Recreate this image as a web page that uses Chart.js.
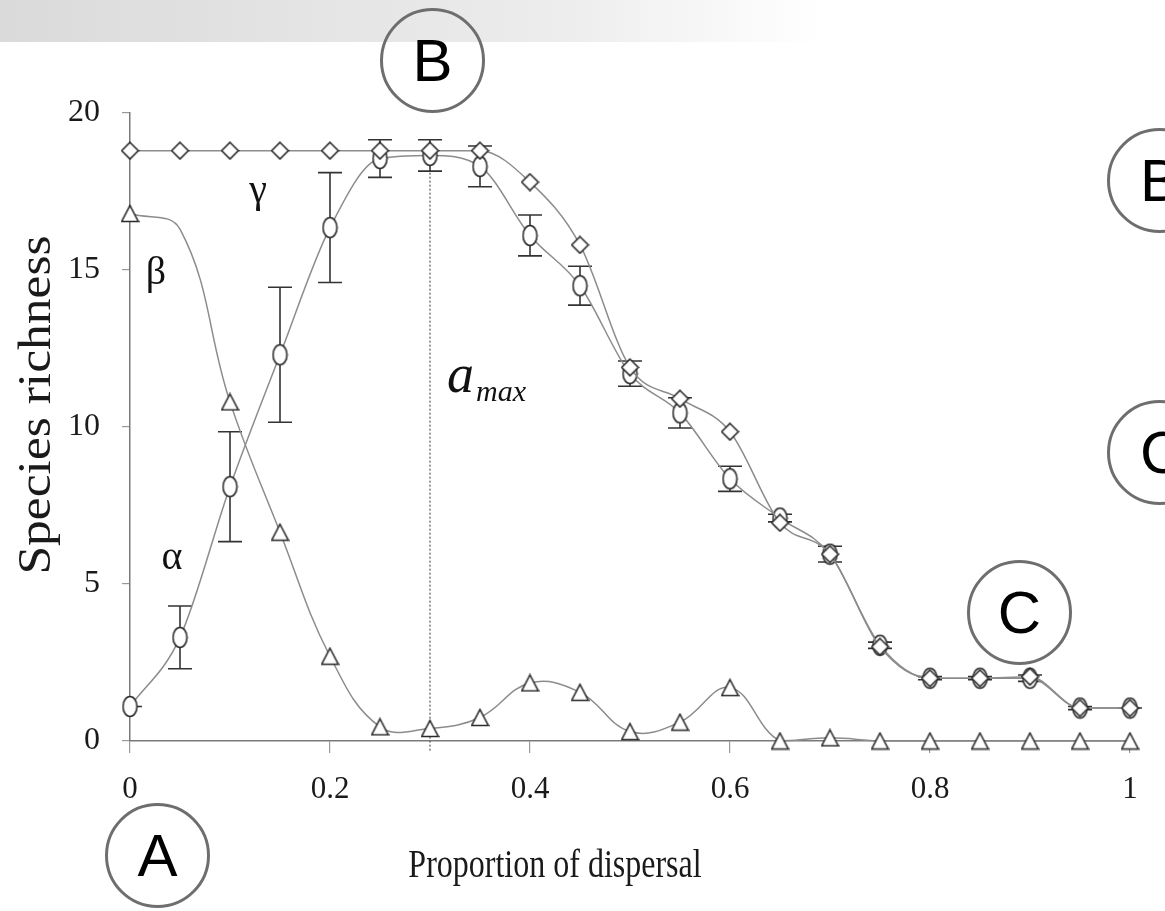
<!DOCTYPE html>
<html>
<head>
<meta charset="utf-8">
<title>Species richness vs proportion of dispersal</title>
<script src="https://cdn.jsdelivr.net/npm/chart.js@4.4.1/dist/chart.umd.min.js"></script>
<style>
  html, body { margin: 0; padding: 0; background: #fff; }
  #wrap { position: relative; width: 1165px; height: 911px; overflow: hidden; }
  #band {
    position: absolute; left: 0; top: 0; width: 1165px; height: 42px;
    background: linear-gradient(to right, #dadada 0px, #ececec 550px, #ffffff 820px);
  }
  #myChart { position: absolute; left: 0; top: 0; }
  .mark {
    position: absolute; width: 105px; height: 105px; box-sizing: border-box;
    border: 3px solid #6e6e6e; border-radius: 50%;
    font-family: 'Liberation Sans', Arial, sans-serif; font-size: 60px; color: #000;
    display: flex; align-items: center; justify-content: center;
  }
  .mark.edge { justify-content: flex-start; padding-left: 30px; }
</style>
</head>
<body>
<div id="wrap">
  <div id="band"></div>
  <canvas id="myChart" width="1165" height="911"></canvas>
  <div class="mark" style="left:380px; top:8px;">B</div>
  <div class="mark edge" style="left:1107px; top:128px;">B</div>
  <div class="mark edge" style="left:1107px; top:400px;">C</div>
  <div class="mark" style="left:967px; top:560px;">C</div>
  <div class="mark" style="left:105px; top:803px;">A</div>
</div>
<script>
// proportion of dispersal (x)
const dispersal = [0, 0.05, 0.1, 0.15, 0.2, 0.25, 0.3, 0.35, 0.4, 0.45, 0.5,
                   0.55, 0.6, 0.65, 0.7, 0.75, 0.8, 0.85, 0.9, 0.95, 1];

// gamma richness (diamonds)
const gamma = [18.8, 18.8, 18.8, 18.8, 18.8, 18.8, 18.8, 18.8, 17.8, 15.8, 11.9,
               10.9, 9.85, 6.95, 5.95, 3.0, 2.0, 2.0, 2.05, 1.05, 1.05];

// alpha richness (circles) and its error bars
const alpha = [1.1, 3.3, 8.1, 12.3, 16.35, 18.55, 18.65, 18.3, 16.1, 14.5, 11.7,
               10.45, 8.35, 7.1, 5.95, 3.05, 2.0, 2.0, 2.0, 1.05, 1.05];
const alphaErr = [0, 1.0, 1.75, 2.15, 1.75, 0.6, 0.5, 0.65, 0.65, 0.62, 0.4,
                  0.48, 0.4, 0.12, 0.25, 0.1, 0.05, 0.05, 0.1, 0.05, 0];

// beta richness (triangles); 0.05 has a curve but no marker
const beta = [16.8, 16.3, 10.8, 6.65, 2.7, 0.45, 0.4, 0.75, 1.85, 1.55, 0.3,
              0.6, 1.7, 0, 0.1, 0, 0, 0, 0, 0, 0];
const betaNoMarker = [0.05];

const aMax = 0.3;
const aMaxTop = 18.1;

const xTickLabels = ['0', '0.2', '0.4', '0.6', '0.8', '1'];
const yTickLabels = ['0', '5', '10', '15', '20'];

const serif = "'Liberation Serif', 'Times New Roman', serif";
const lineColor = '#8c8c8c';

function makeMarker(w, h, path) {
    const c = document.createElement('canvas');
    c.width = w;
    c.height = h;
    const g = c.getContext('2d');
    g.fillStyle = '#fff';
    g.strokeStyle = '#2a2a2a';
    g.lineWidth = 1.6;
    g.beginPath();
    path(g);
    g.closePath();
    g.fill();
    g.stroke();
    return c;
}

const diamond = makeMarker(19, 19, g => {
    g.moveTo(9.5, 1.2); g.lineTo(17.8, 9.5); g.lineTo(9.5, 17.8); g.lineTo(1.2, 9.5);
});
const oval = makeMarker(17, 23, g => {
    g.ellipse(8.5, 11.5, 7, 10, 0, 0, Math.PI * 2);
});
const triangle = makeMarker(19, 19, g => {
    g.moveTo(9.5, 1.5); g.lineTo(17.8, 17.5); g.lineTo(1.2, 17.5);
});

function toPoints(values) {
    return values.map((v, i) => ({ x: dispersal[i], y: v }));
}

const extras = {
    id: 'extras',
    beforeDatasetsDraw(chart) {
        const { ctx, scales: { x, y } } = chart;
        ctx.save();
        // a_max dotted line
        const px = x.getPixelForValue(aMax);
        ctx.strokeStyle = '#555';
        ctx.lineWidth = 1.2;
        ctx.setLineDash([2, 2]);
        ctx.beginPath();
        ctx.moveTo(px, y.getPixelForValue(aMaxTop));
        ctx.lineTo(px, y.getPixelForValue(0) + 10);
        ctx.stroke();
        ctx.setLineDash([]);

        // error bars on alpha
        ctx.strokeStyle = '#333';
        ctx.lineWidth = 1.6;
        alpha.forEach((v, i) => {
            const cx = x.getPixelForValue(dispersal[i]);
            const top = y.getPixelForValue(v + alphaErr[i]);
            const bot = y.getPixelForValue(v - alphaErr[i]);
            const left = i === 0 ? cx : cx - 12;
            ctx.beginPath();
            ctx.moveTo(cx, top); ctx.lineTo(cx, bot);
            ctx.moveTo(left, top); ctx.lineTo(cx + 12, top);
            ctx.moveTo(left, bot); ctx.lineTo(cx + 12, bot);
            ctx.stroke();
        });
        ctx.restore();
    },
    afterDatasetsDraw(chart) {
        const { ctx, scales: { x, y } } = chart;
        ctx.save();
        ctx.fillStyle = '#111';
        ctx.textAlign = 'center';
        ctx.textBaseline = 'middle';
        ctx.font = '40px ' + serif;
        ctx.fillText('γ', x.getPixelForValue(0.128), y.getPixelForValue(17.5));
        ctx.fillText('β', x.getPixelForValue(0.026), y.getPixelForValue(14.9));
        ctx.fillText('α', x.getPixelForValue(0.042), y.getPixelForValue(5.8));

        ctx.textAlign = 'left';
        ctx.textBaseline = 'alphabetic';
        const ax = x.getPixelForValue(0.317);
        const ay = y.getPixelForValue(11.1);
        ctx.font = 'italic 54px ' + serif;
        ctx.fillText('a', ax, ay);
        const aw = ctx.measureText('a').width;
        ctx.font = 'italic 30px ' + serif;
        ctx.fillText('max', ax + aw + 2, ay + 9);

        // axis titles (the figure is slightly stretched vertically)
        ctx.fillStyle = '#1a1a1a';
        ctx.textAlign = 'center';
        ctx.textBaseline = 'middle';
        ctx.save();
        ctx.translate(555, 866);
        ctx.scale(1, 1.25);
        ctx.font = '32px ' + serif;
        ctx.fillText('Proportion of dispersal', 0, 0);
        ctx.restore();

        ctx.translate(38, 405);
        ctx.rotate(-Math.PI / 2);
        ctx.scale(1.12, 1);
        ctx.font = '46px ' + serif;
        ctx.fillText('Species richness', 0, 0);
        ctx.restore();
    }
};

document.addEventListener('DOMContentLoaded', function () {
    const ctx = document.getElementById('myChart').getContext('2d');
    const myChart = new Chart(ctx, {
        type: 'line',
        data: {
            datasets: [
                {
                    label: 'γ',
                    data: toPoints(gamma),
                    borderColor: lineColor,
                    borderWidth: 1.5,
                    pointStyle: diamond,
                    pointRadius: 9,
                    cubicInterpolationMode: 'monotone',
                    clip: false
                },
                {
                    label: 'α',
                    data: toPoints(alpha),
                    borderColor: lineColor,
                    borderWidth: 1.5,
                    pointStyle: oval,
                    pointRadius: 9,
                    cubicInterpolationMode: 'monotone',
                    clip: false
                },
                {
                    label: 'β',
                    data: toPoints(beta),
                    borderColor: lineColor,
                    borderWidth: 1.5,
                    pointStyle: triangle,
                    pointRadius: c => betaNoMarker.includes(dispersal[c.dataIndex]) ? 0 : 9,
                    tension: 0.4,
                    clip: false
                }
            ]
        },
        options: {
            responsive: false,
            animation: false,
            events: [],
            layout: { padding: { top: 113, right: 35, bottom: 0, left: 0 } },
            plugins: {
                legend: { display: false },
                tooltip: { enabled: false }
            },
            scales: {
                x: {
                    type: 'linear',
                    min: 0,
                    max: 1,
                    afterFit: s => { s.height = 170; },
                    border: { display: true, color: '#7a7a7a', width: 1.5 },
                    grid: { drawOnChartArea: false, drawTicks: true, tickLength: 12, color: '#999', lineWidth: 1.2 },
                    ticks: {
                        stepSize: 0.2,
                        padding: 18,
                        color: '#1a1a1a',
                        font: { family: serif, size: 31 },
                        maxRotation: 0,
                        callback: (v, i) => xTickLabels[i]
                    }
                },
                y: {
                    min: 0,
                    max: 20,
                    afterFit: s => { s.width = 130; },
                    border: { display: true, color: '#7a7a7a', width: 1.5 },
                    grid: { drawOnChartArea: false, drawTicks: true, tickLength: 8, color: '#999', lineWidth: 1.2 },
                    ticks: {
                        stepSize: 5,
                        padding: 22,
                        color: '#1a1a1a',
                        font: { family: serif, size: 32 },
                        callback: (v, i) => yTickLabels[i]
                    }
                }
            }
        },
        plugins: [extras]
    });
});
</script>
</body>
</html>
